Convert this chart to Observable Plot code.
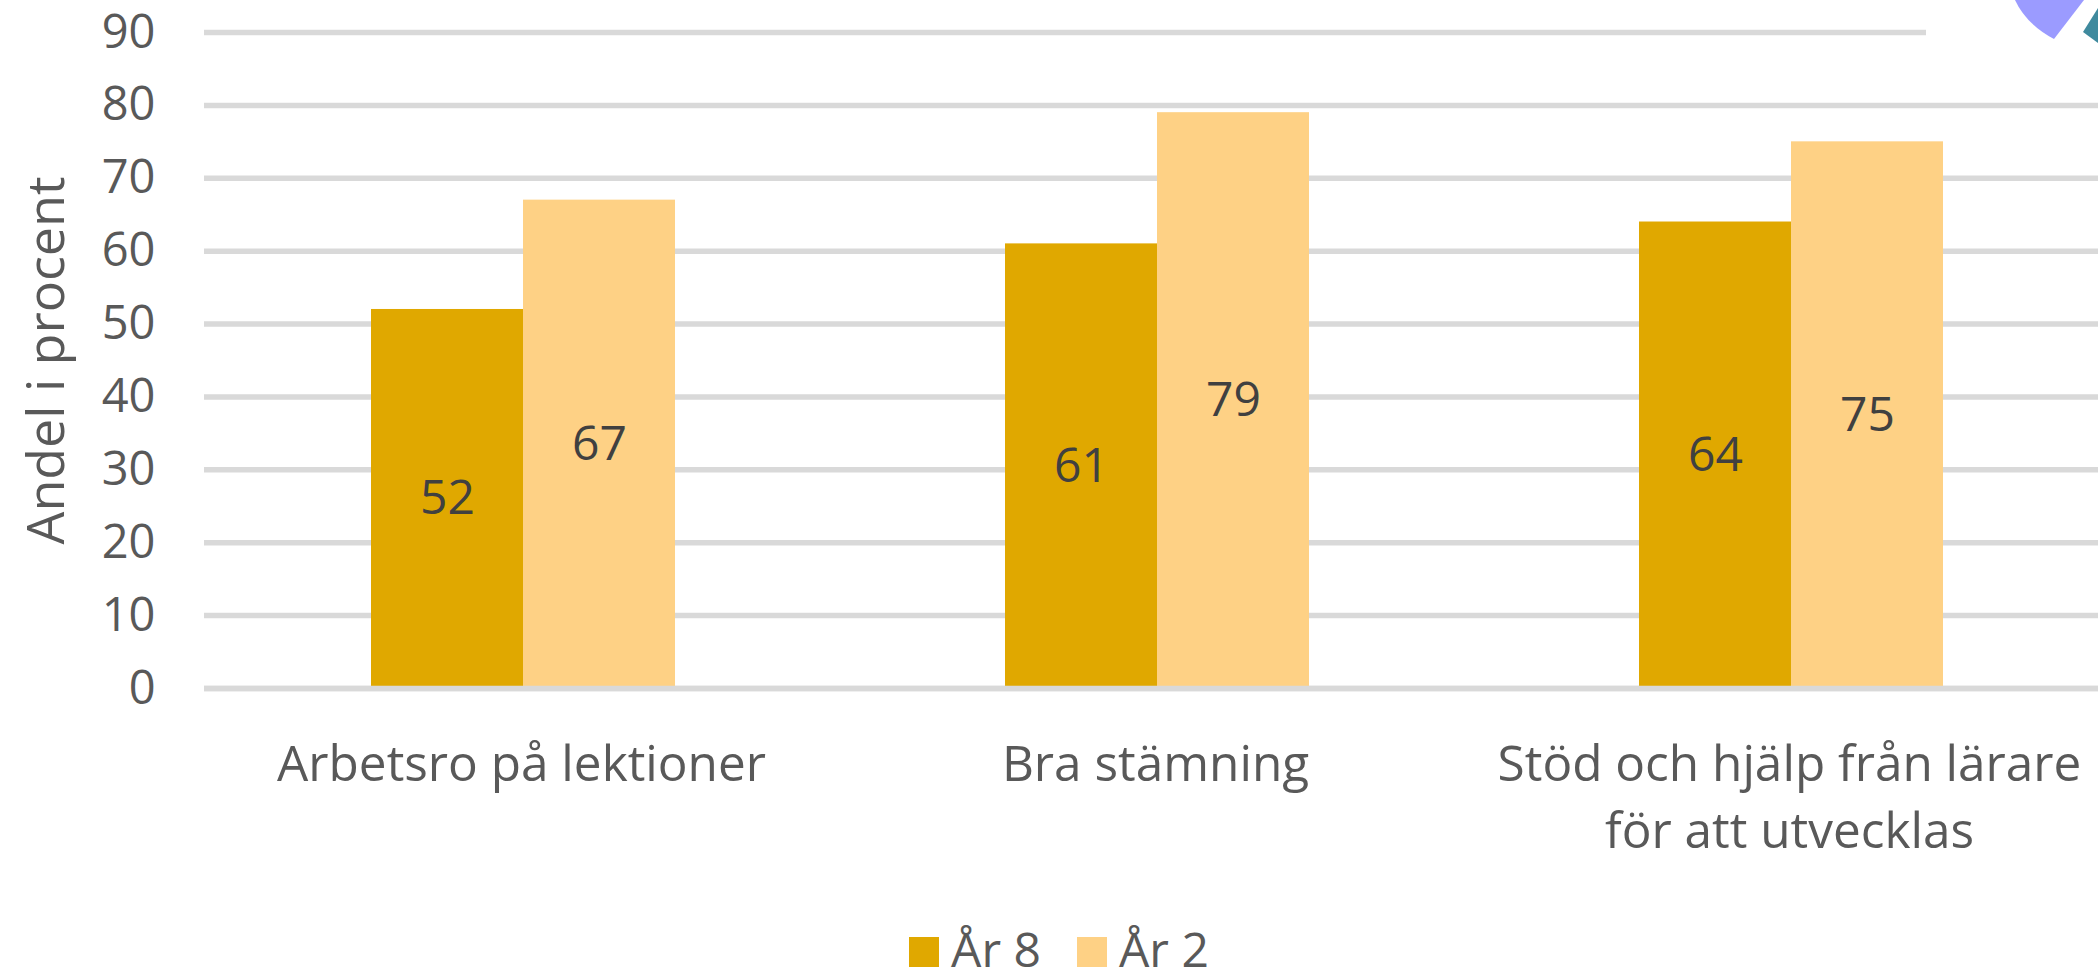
<!DOCTYPE html>
<html>
<head>
<meta charset="utf-8">
<script src="https://cdn.jsdelivr.net/npm/d3@7"></script>
<script src="https://cdn.jsdelivr.net/npm/@observablehq/plot@0.6"></script>
<style>
  html, body { margin: 0; padding: 0; background: #fff; overflow: hidden; }
  #wrap { position: relative; width: 2098px; height: 971px; }
  #legend { font-family: "Open Sans", sans-serif; font-size: 48px; color: #595959; text-align: center;
            line-height: 1.2; padding-top: 20px; padding-left: 20px; white-space: nowrap; }
  #legend .sw { display: inline-block; width: 30px; height: 30px; margin-right: 12px; }
  #legend .item + .item { margin-left: 36px; }
  #deco { position: absolute; left: 0; top: 0; pointer-events: none; }
</style>
</head>
<body>
<div id="wrap">
  <div id="chart"></div>
  <div id="legend"></div>
  <svg id="deco" width="2098" height="60" viewBox="0 0 2098 60">
    <rect x="1926" y="25" width="172" height="14" fill="#ffffff"></rect>
    <path d="M2015,0 Q2026,24 2054,39 L2084,0 Z" fill="#9b9bff"></path>
    <path d="M2083,32 L2098,8 L2098,43 Z" fill="#3f8a9e"></path>
  </svg>
</div>
<script>
const categories = ["Arbetsro på lektioner", "Bra stämning", "Stöd och hjälp från lärare för att utvecklas"];
const categoryLabels = ["Arbetsro på lektioner", "Bra stämning", "Stöd och hjälp från lärare\nför att utvecklas"];
const series = ["År 8", "År 2"];
const ar8 = [52, 61, 64];
const ar2 = [67, 79, 75];
const yTicks = [0, 10, 20, 30, 40, 50, 60, 70, 80, 90];
const yTitle = "Andel i procent";
const seriesColors = ["#E0A800", "#FED185"];

const data = categories.flatMap((c, i) => [
  {cat: c, series: series[0], value: ar8[i]},
  {cat: c, series: series[1], value: ar2[i]}
]);

const gridStyle = {stroke: "#d9d9d9", strokeOpacity: 1, strokeWidth: 5.5};
const font = "'Open Sans', sans-serif";

const chart = Plot.plot({
  width: 2098,
  height: 900,
  marginLeft: 204,
  marginRight: -8,
  marginTop: 32,
  marginBottom: 212,
  style: {fontFamily: font, fontSize: "47px", color: "#595959", background: "#fff"},
  fx: {domain: categories, paddingInner: 0, paddingOuter: 0, label: null},
  x: {domain: series, paddingInner: 0, paddingOuter: 1.0855, align: 0.506, axis: null},
  y: {domain: [0, 90]},
  color: {domain: series, range: seriesColors},
  marks: [
    Plot.gridY(yTicks, gridStyle),
    Plot.barY(data, {fx: "cat", x: "series", y: "value", fill: "series"}),
    Plot.ruleY([0], gridStyle),
    Plot.text(data, {fx: "cat", x: "series", y: d => d.value / 2, text: d => String(d.value),
                     fill: "#404040", fontSize: 48}),
    Plot.axisY(yTicks, {tickSize: 0, tickPadding: 49, fontSize: 47, fill: "#595959", label: null}),
    Plot.text([yTitle], {fx: () => categories[0], frameAnchor: "left", dx: -157, rotate: -90,
                         textAnchor: "middle", lineAnchor: "middle",
                         text: d => d, fontSize: 52, fill: "#595959"}),
    Plot.axisFx({anchor: "bottom", tickSize: 0, tickPadding: 45, fontSize: 49.5, lineHeight: 1.35,
                 fill: "#595959", label: null,
                 tickFormat: d => categoryLabels[categories.indexOf(d)]})
  ]
});
document.getElementById("chart").appendChild(chart);

const legend = document.getElementById("legend");
series.forEach((s, i) => {
  const item = document.createElement("span");
  item.className = "item";
  const sw = document.createElement("span");
  sw.className = "sw";
  sw.style.background = seriesColors[i];
  item.appendChild(sw);
  item.appendChild(document.createTextNode(s));
  legend.appendChild(item);
});
</script>
</body>
</html>
